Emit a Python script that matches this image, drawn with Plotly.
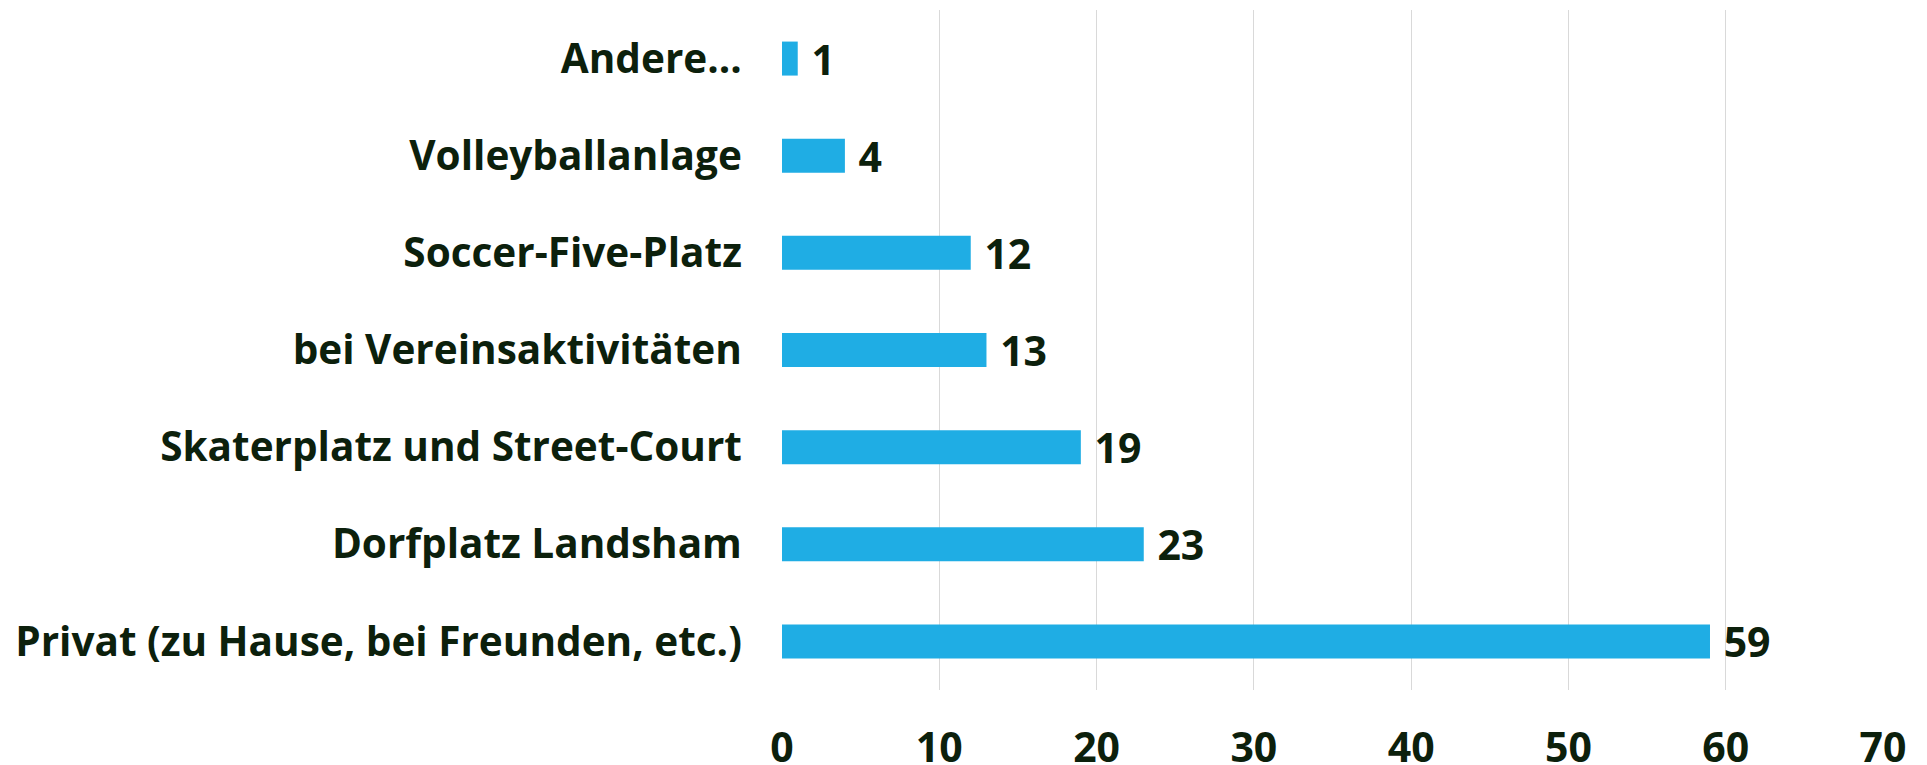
import plotly.graph_objects as go

categories = [
    "Privat (zu Hause, bei Freunden, etc.)",
    "Dorfplatz Landsham",
    "Skaterplatz und Street-Court",
    "bei Vereinsaktivitäten",
    "Soccer-Five-Platz",
    "Volleyballanlage",
    "Andere...",
]
values = [59, 23, 19, 13, 12, 4, 1]
x_ticks = [0, 10, 20, 30, 40, 50, 60, 70]

TEXT = "#0c200c"
FONT = "Open Sans"

fig = go.Figure(
    go.Bar(
        x=values,
        y=categories,
        orientation="h",
        marker=dict(color="#1FADE4", line=dict(width=0)),
        text=values,
        texttemplate=" %{x}",
        textposition="outside",
        constraintext="none",
        textfont=dict(family=FONT, size=41, color=TEXT, weight="bold"),
        cliponaxis=False,
    )
)

fig.update_layout(
    width=1919,
    height=757,
    margin=dict(l=774, r=44, t=2, b=75),
    paper_bgcolor="white",
    plot_bgcolor="white",
    bargap=0.65,
    showlegend=False,
    font=dict(family=FONT, color=TEXT),
)
fig.update_xaxes(
    range=[0, 70],
    tickvals=x_ticks,
    showgrid=True,
    gridcolor="#d9d9d9",
    gridwidth=1,
    zeroline=False,
    showline=False,
    ticks="outside",
    ticklen=22,
    tickcolor="rgba(0,0,0,0)",
    tickfont=dict(family=FONT, size=41, color=TEXT, weight="bold"),
    automargin=False,
)
fig.update_yaxes(
    categoryorder="array",
    categoryarray=categories,
    showgrid=False,
    zeroline=False,
    showline=False,
    ticks="outside",
    ticklen=31,
    tickcolor="rgba(0,0,0,0)",
    tickfont=dict(family=FONT, size=40.5, color=TEXT, weight="bold"),
    automargin=False,
)

fig.write_html("out.html")
